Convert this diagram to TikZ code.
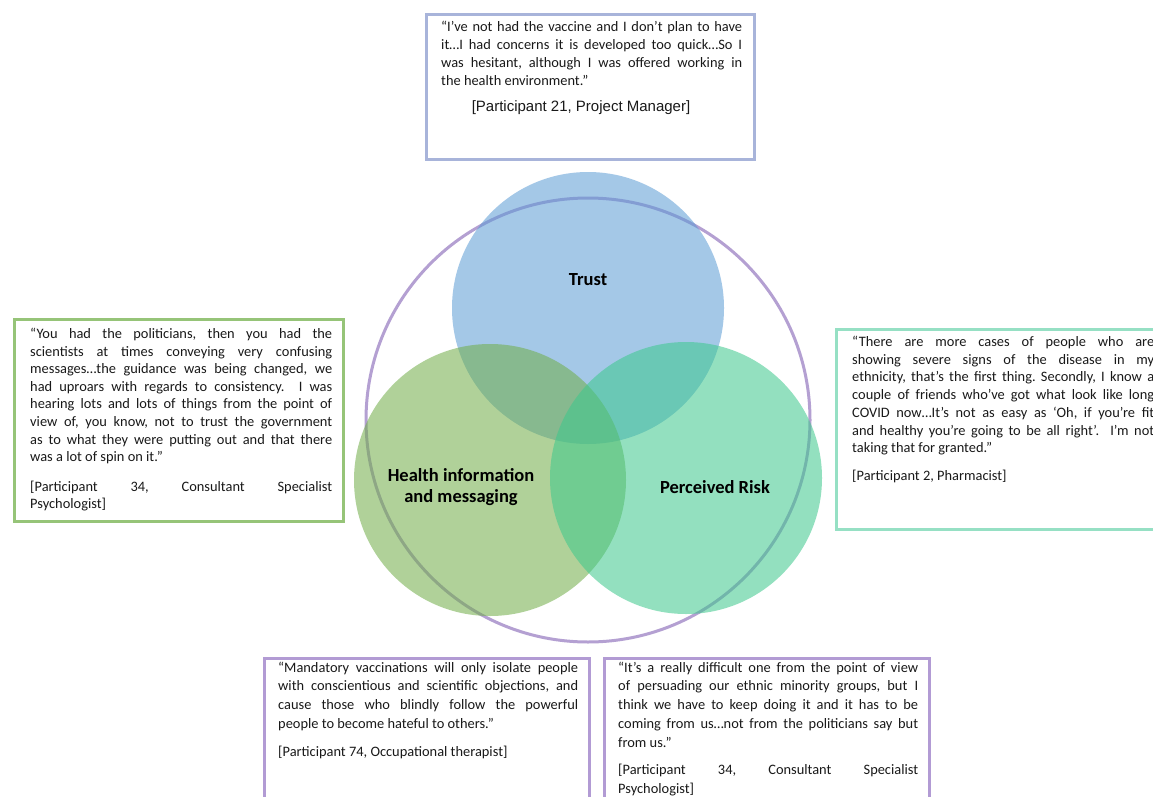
\documentclass[tikz,border=0pt]{standalone}
\usepackage{fontspec}
\setmainfont{Carlito}
\newfontfamily\arialf{Liberation Sans}
\definecolor{txt}{RGB}{25,25,25}
\definecolor{trustc}{RGB}{91,155,213}
\definecolor{healthc}{RGB}{112,173,71}
\definecolor{riskc}{RGB}{60,200,140}
\definecolor{purp}{RGB}{180,160,210}
\definecolor{topc}{RGB}{168,180,218}
\definecolor{leftc}{RGB}{150,196,120}
\definecolor{rightc}{RGB}{150,224,196}
\definecolor{botc}{RGB}{178,155,212}
\newcommand{\qfont}[1]{\fontsize{14.4}{#1}\selectfont}
\frenchspacing
\begin{document}
\begin{tikzpicture}[x=1pt,y=-1pt,
  qbox/.style={draw, line width=3pt, inner sep=0pt, anchor=north west},
  qtext/.style={anchor=north west, inner sep=0pt, text width=300pt, align=justify, text=txt},
  vcirc/.style={circle, inner sep=0pt, minimum size=272pt, fill opacity=0.55},
  clabel/.style={font=\bfseries\fontsize{18.5}{21}\selectfont, text=black, align=center, inner sep=0pt}
]
\clip (0,0) rectangle (1153,797);
\useasboundingbox (0,0) rectangle (1153,797);
\fill[white] (0,0) rectangle (1153,797);

% outer circle
\node[draw=purp, line width=3pt, circle, inner sep=0pt, minimum size=444pt] (outer) at (588,420) {};
% venn circles
\node[vcirc, fill=trustc] (trust) at (588,308) {};
\node[vcirc, fill=healthc] (health) at (490,480) {};
\node[vcirc, fill=riskc] (risk) at (686,478) {};

\node[clabel] (ltrust) at (588,280) {Trust};
\node[clabel] (lhealth) at (461,487) {Health information\\and messaging};
\node[clabel] (lrisk) at (715,487) {Perceived Risk};

% boxes
\node[qbox, draw=topc, minimum width=328pt, minimum height=145pt] (boxT) at (425,13) {};
\node[qbox, draw=leftc, minimum width=329pt, minimum height=202pt] (boxL) at (13,318) {};
\node[qbox, draw=rightc, minimum width=400pt, minimum height=200pt] (boxR) at (835,328) {};
\node[qbox, draw=botc, minimum width=325pt, minimum height=200pt] (boxBL) at (263,657) {};
\node[qbox, draw=botc, minimum width=325pt, minimum height=200pt] (boxBR) at (603,657) {};

% texts
\node[qtext, text width=301pt, font=\qfont{18}] (tT) at (441,19) {\strut “I’ve not had the vaccine and I don’t plan to have\linebreak
it…I had concerns it is developed too quick…So I\linebreak
was hesitant, although I was offered working in\linebreak
the health environment.”};
\node[inner sep=0pt, font=\arialf\fontsize{15}{18}\selectfont, text=txt] (pT) at (581,108) {[Participant 21, Project Manager]};

\node[qtext, text width=302pt, font=\qfont{17.6}] (tL) at (30,326) {\strut “You had the politicians, then you had the\linebreak
scientists at times conveying very confusing\linebreak
messages…the guidance was being changed, we\linebreak
had uproars with regards to consistency.\ \ I was\linebreak
hearing lots and lots of things from the point of\linebreak
view of, you know, not to trust the government\linebreak
as to what they were putting out and that there\linebreak
was a lot of spin on it.”\par\vspace{12pt}
\strut[Participant 34, Consultant Specialist\linebreak
Psychologist]};

\node[qtext, text width=302pt, font=\qfont{17.7}] (tR) at (852,334) {\strut “There are more cases of people who are\linebreak
showing severe signs of the disease in my\linebreak
ethnicity, that’s the first thing. Secondly, I know a\linebreak
couple of friends who’ve got what look like long\linebreak
COVID now…It’s not as easy as ‘Oh, if you’re fit\linebreak
and healthy you’re going to be all right’.\ \ I’m not\linebreak
taking that for granted.”\par\vspace{10pt}
\strut[Participant 2, Pharmacist]};

\node[qtext, text width=300pt, font=\qfont{18.7}] (tBL) at (278,659) {\strut “Mandatory vaccinations will only isolate people\linebreak
with conscientious and scientific objections, and\linebreak
cause those who blindly follow the powerful\linebreak
people to become hateful to others.”\par\vspace{9pt}
\strut[Participant 74, Occupational therapist]};

\node[qtext, text width=300pt, font=\qfont{18.7}] (tBR) at (618,659) {\strut “It’s a really difficult one from the point of view\linebreak
of persuading our ethnic minority groups, but I\linebreak
think we have to keep doing it and it has to be\linebreak
coming from us…not from the politicians say but\linebreak
from us.”\par\vspace{9pt}
\strut[Participant 34, Consultant Specialist\linebreak
Psychologist]};
\end{tikzpicture}
\end{document}
